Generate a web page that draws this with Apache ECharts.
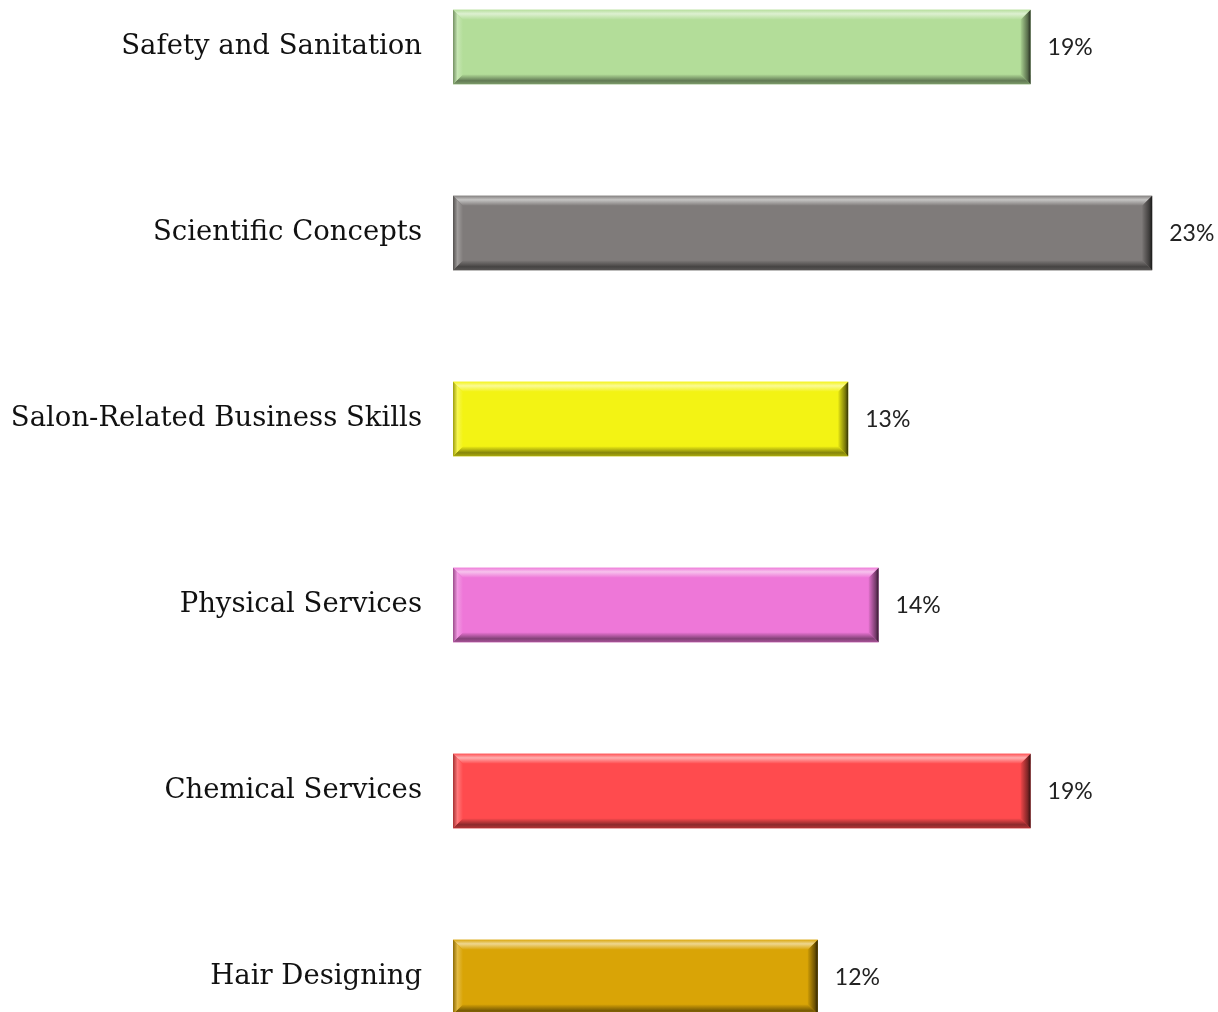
<!DOCTYPE html>
<html>
<head>
<meta charset="utf-8">
<script src="https://cdn.jsdelivr.net/npm/echarts@6/dist/echarts.min.js"></script>
<style>
html,body{margin:0;padding:0;background:#fff;}
#main{width:1218px;height:1012px;}
</style>
</head>
<body>
<div id="main"></div>
<script>
// Categories listed top to bottom
const categories = ['Safety and Sanitation','Scientific Concepts','Salon-Related Business Skills','Physical Services','Chemical Services','Hair Designing'];
const values = [19, 23, 13, 14, 19, 12];

const palette = ['#b3dd99','#7f7b7a','#f3f314','#ee77d8','#ff4b4e','#d9a406'];

function mix(hex, target, t){
  const n = parseInt(hex.slice(1),16);
  const r=(n>>16)&255, g=(n>>8)&255, b=n&255;
  const tr = target==='w'?255:0;
  const f = c => Math.round(c+(tr-c)*t);
  return 'rgb('+f(r)+','+f(g)+','+f(b)+')';
}

const chart = echarts.init(document.getElementById('main'));
const data = categories.map((c,i)=>[i, values[i]]);

chart.setOption({
  animation:false,
  grid:{left:453, right:5, top:-46, bottom:-58, outerBoundsMode:'none'},
  xAxis:{type:'value', min:0, max:25, show:false},
  yAxis:{type:'category', data:categories, inverse:true,
    axisLine:{show:false}, axisTick:{show:false}, splitLine:{show:false},
    axisLabel:{margin:31, fontFamily:'DejaVu Serif', fontSize:27.5, color:'#111', padding:[6,0,0,0]}},
  series:[{
    type:'custom',
    encode:{x:1, y:0},
    data:data,
    renderItem:function(params, api){
      const cat = api.value(0), val = api.value(1);
      const p0 = api.coord([0, cat]), p1 = api.coord([val, cat]);
      const bh = api.size([0,1])[1]*0.4;
      const x0=p0[0], x1=p1[0], yc=p0[1], y0=yc-bh/2, y1=yc+bh/2;
      const b=10;
      const base = palette[params.dataIndex];
      const lg = (x,y,x2,y2,stops)=>new echarts.graphic.LinearGradient(x,y,x2,y2,stops);
      return {type:'group', children:[
        {type:'rect', shape:{x:x0,y:y0,width:x1-x0,height:bh}, style:{fill:base}},
        {type:'polygon', shape:{points:[[x0,y0],[x1,y0],[x1-b,y0+b],[x0+b,y0+b]]},
          style:{fill:lg(0,0,0,1,[{offset:0,color:mix(base,'w',0.05)},{offset:0.4,color:mix(base,'w',0.55)},{offset:1,color:base}])}},
        {type:'polygon', shape:{points:[[x0,y1],[x1,y1],[x1-b,y1-b],[x0+b,y1-b]]},
          style:{fill:lg(0,0,0,1,[{offset:0,color:base},{offset:0.65,color:mix(base,'k',0.45)},{offset:1,color:mix(base,'k',0.3)}])}},
        {type:'polygon', shape:{points:[[x0,y0],[x0+b,y0+b],[x0+b,y1-b],[x0,y1]]},
          style:{fill:lg(0,0,1,0,[{offset:0,color:mix(base,'k',0.35)},{offset:0.45,color:mix(base,'w',0.25)},{offset:1,color:base}])}},
        {type:'polygon', shape:{points:[[x1,y0],[x1,y1],[x1-b,y1-b],[x1-b,y0+b]]},
          style:{fill:lg(0,0,1,0,[{offset:0,color:mix(base,'k',0.05)},{offset:0.7,color:mix(base,'k',0.5)},{offset:1,color:mix(base,'k',0.8)}])}},
        {type:'text', style:{text:val+'%', x:x1+17, y:yc+1, verticalAlign:'middle', align:'left',
          font:'23px Lato', fill:'#222'}}
      ]};
    }
  }]
});
</script>
</body>
</html>
